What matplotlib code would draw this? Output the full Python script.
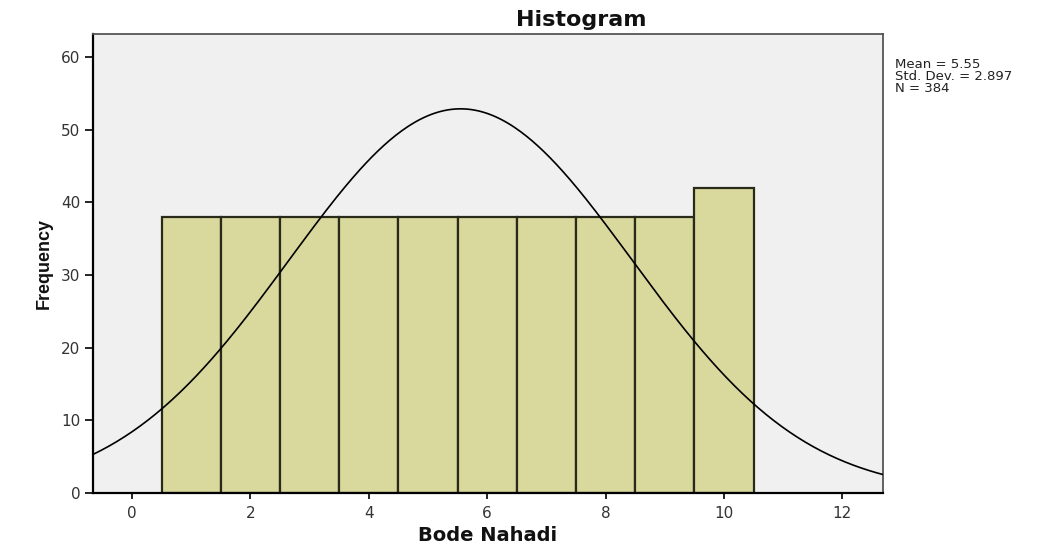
import numpy as np
import matplotlib
matplotlib.use("Agg")
import matplotlib.pyplot as plt

# Data
bin_centers = [1, 2, 3, 4, 5, 6, 7, 8, 9, 10]
frequencies = [38, 38, 38, 38, 38, 38, 38, 38, 38, 42]
mean_val = 5.55
std_val = 2.897
n_val = 384
x_ticks = [0, 2, 4, 6, 8, 10, 12]
y_ticks = [0, 10, 20, 30, 40, 50, 60]
stats_lines = ['Mean = 5.55', 'Std. Dev. = 2.897', 'N = 384']

plt.rcParams['font.family'] = ['DejaVu Sans']

fig = plt.figure(figsize=(10.57, 5.46), dpi=100)
ax = fig.add_axes([0.088, 0.097, 0.747, 0.841])
ax.set_facecolor('#f0f0f0')

ax.bar(bin_centers, frequencies, width=1.0, color='#d9d99e', edgecolor='#2a2a1a', linewidth=1.6, zorder=2)

xs = np.linspace(-0.66, 12.68, 400)
pdf = n_val * 1.0 / (std_val * np.sqrt(2 * np.pi)) * np.exp(-0.5 * ((xs - mean_val) / std_val) ** 2)
ax.plot(xs, pdf, color='black', linewidth=1.2, zorder=3)

ax.set_xlim(-0.66, 12.68)
ax.set_ylim(0, 63.2)
ax.set_xticks(x_ticks)
ax.set_yticks(y_ticks)
ax.tick_params(axis='both', labelsize=11, labelcolor='#333333', color='black', length=6, width=1.2)
ax.tick_params(axis='x', direction='out', length=4, pad=5)
ax.tick_params(axis='y', pad=3)

for s in ['left', 'bottom']:
    ax.spines[s].set_linewidth(1.6)
    ax.spines[s].set_color('black')
for s in ['top', 'right']:
    ax.spines[s].set_linewidth(1.3)
    ax.spines[s].set_color('#555555')

ax.set_xlabel('Bode Nahadi', fontsize=14, fontweight='bold', labelpad=4, color='#111111')
ax.set_ylabel('Frequency', family='Liberation Sans', fontsize=13, fontweight='bold',
              labelpad=6, color='#111111')
fig.text(581 / 1057, 1 - 20 / 546, 'Histogram', ha='center', va='center',
         fontsize=16, fontweight='bold', color='#111111')

for i, line in enumerate(stats_lines):
    fig.text(895 / 1057, 1 - (64 + 12.5 * i) / 546, line, ha='left', va='center',
             fontsize=9.5, color='#222222')

fig.savefig('out.png', dpi=100)
